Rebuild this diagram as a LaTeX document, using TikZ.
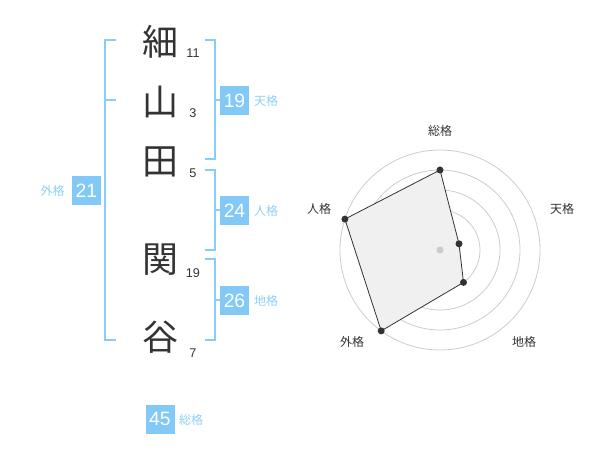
\documentclass[tikz,border=0pt]{standalone}
\usepackage{fontspec}
\setmainfont{Liberation Sans}
\newfontfamily\cjk{Noto Sans CJK JP}
\definecolor{brc}{HTML}{86CDF7}
\definecolor{boxc}{HTML}{82C9F8}
\definecolor{lblc}{HTML}{8ED0F4}
\definecolor{txtc}{HTML}{333333}
\definecolor{ringc}{HTML}{CCCCCC}
\definecolor{polyc}{HTML}{F0F0F0}
\tikzset{
  kanji/.style={font=\cjk\fontsize{27}{27}\selectfont, text=txtc, inner sep=0pt},
  num/.style={font=\fontsize{9.5}{10}\selectfont, text=txtc, inner sep=0pt},
  valbox/.style={fill=boxc, text=white, minimum width=21.75pt, minimum height=21.75pt, inner sep=0pt, font=\fontsize{14.5}{15}\selectfont},
  kakulbl/.style={font=\cjk\fontsize{9}{9}\selectfont, text=lblc, inner sep=0pt},
  br/.style={draw=brc, line width=1.5pt},
  ring/.style={draw=ringc, line width=0.6pt},
  radlbl/.style={font=\cjk\fontsize{9}{9}\selectfont, text=txtc, inner sep=0pt},
  dotc/.style={circle, fill=txtc, minimum size=5.25pt, inner sep=0pt},
}
\begin{document}
\begin{tikzpicture}[x=0.75pt,y=-0.75pt]
\useasboundingbox (0,0) rectangle (600,470);
% kanji
\node[kanji] (k1) at (160,42) {細};
\node[kanji] (k2) at (160,102) {山};
\node[kanji] (k3) at (160,162) {田};
\node[kanji] (k4) at (160,260) {関};
\node[kanji] (k5) at (160,337) {谷};
% stroke counts
\node[num] (n1) at (193,53) {11};
\node[num] (n2) at (193,113) {3};
\node[num] (n3) at (193,173) {5};
\node[num] (n4) at (193,273) {19};
\node[num] (n5) at (193,353) {7};
% brackets
\coordinate (lt) at (116,40); \coordinate (lb) at (116,340);
\draw[br] (lt) -- (105,40) -- (105,340) -- (lb);
\draw[br] (105,100) -- (116,100);
\draw[br] (205,40) -- (215,40) -- (215,159) -- (205,159);
\draw[br] (215,100.5) -- (220,100.5);
\draw[br] (205,170) -- (215,170) -- (215,250) -- (205,250);
\draw[br] (215,210.5) -- (220,210.5);
\draw[br] (205,259) -- (215,259) -- (215,340) -- (205,340);
\draw[br] (215,300.5) -- (220,300.5);
% value boxes
\node[valbox] (ten) at (234.5,100.5) {19};
\node[kakulbl] (tenl) at (266,101) {天格};
\node[valbox] (jin) at (234.5,210.5) {24};
\node[kakulbl] (jinl) at (266,211) {人格};
\node[valbox] (chi) at (234.5,300.5) {26};
\node[kakulbl] (chil) at (266,301) {地格};
\node[valbox] (gai) at (86.3,190.5) {21};
\node[kakulbl] (gail) at (52.7,191) {外格};
\node[valbox] (sou) at (160,419) {45};
\node[kakulbl] (soul) at (191,420) {総格};
% radar
\coordinate (c) at (440,250);
\foreach \r in {20,40,60,80,100} \draw[ring] (c) circle[radius=\r];
\coordinate (p1) at (440,170);
\coordinate (p2) at (459.0,243.8);
\coordinate (p3) at (463.5,282.4);
\coordinate (p4) at (381.2,330.9);
\coordinate (p5) at (344.9,219.1);
\draw[fill=polyc, draw=txtc, line width=0.6pt] (p1) -- (p2) -- (p3) -- (p4) -- (p5) -- cycle;
\node[circle, fill=ringc, minimum size=5.25pt, inner sep=0pt] (cd) at (c) {};
\foreach \p in {p1,p2,p3,p4,p5} \node[dotc] at (\p) {};
\node[radlbl] (r1) at (440,131) {総格};
\node[radlbl] (r2) at (562,209) {天格};
\node[radlbl] (r3) at (524,342) {地格};
\node[radlbl] (r4) at (352,342) {外格};
\node[radlbl] (r5) at (319,209) {人格};
\end{tikzpicture}
\end{document}
